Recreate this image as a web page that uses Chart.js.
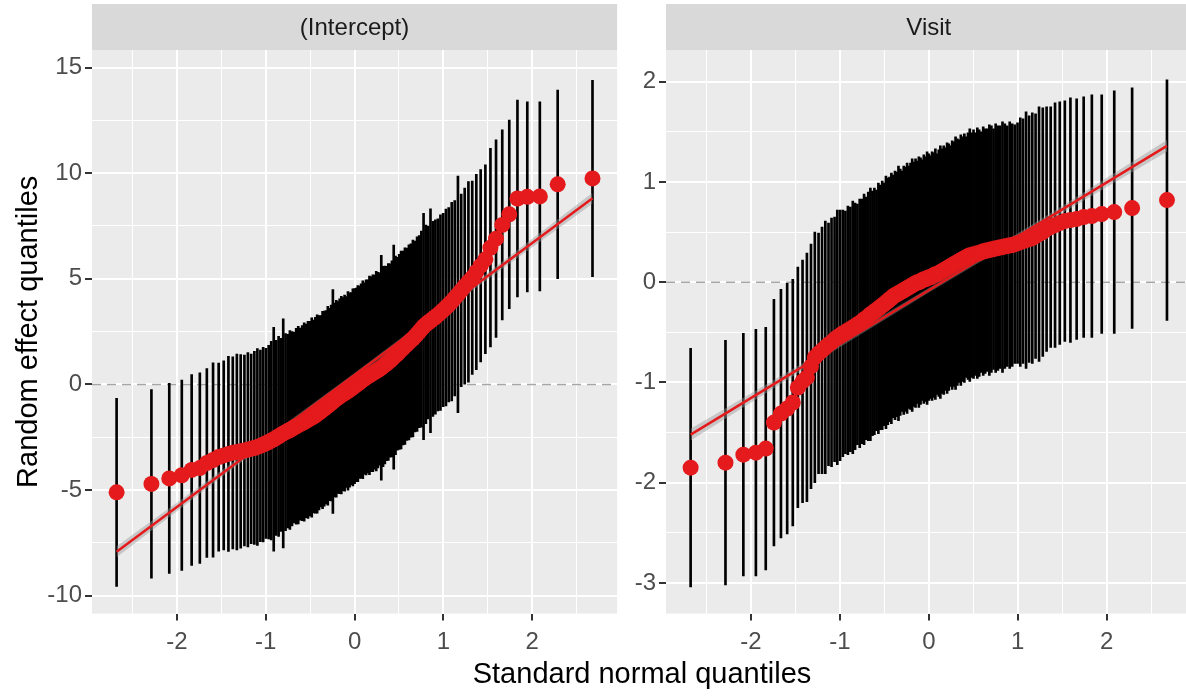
<!DOCTYPE html>
<html>
<head>
<meta charset="utf-8">
<script src="https://cdn.jsdelivr.net/npm/chart.js@4.4.1/dist/chart.umd.min.js"></script>
<style>
  html, body { margin: 0; padding: 0; background: #fff; width: 1186px; height: 696px; overflow: hidden; position: relative; }
  canvas { position: absolute; top: 0; }
  #left { left: 0; }
  #right { left: 610px; }
  #xtitle { position: absolute; left: 342px; width: 600px; top: 659px; text-align: center;
    font: 29px 'Liberation Sans', Arial, sans-serif; line-height: 29px; color: #000; }
</style>
</head>
<body>
<canvas id="left" width="640" height="696"></canvas>
<canvas id="right" width="610" height="696"></canvas>
<div id="xtitle">Standard normal quantiles</div>
<script>
// theoretical quantiles (shared by both facets)
const quantiles = [
  -2.679, -2.287, -2.086, -1.945, -1.834, -1.742, -1.663, -1.593, -1.530, -1.473,
  -1.420, -1.371, -1.325, -1.282, -1.240, -1.201, -1.164, -1.128, -1.094, -1.060,
  -1.029, -0.998, -0.967, -0.938, -0.910, -0.882, -0.855, -0.829, -0.803, -0.777,
  -0.752, -0.728, -0.704, -0.681, -0.657, -0.634, -0.612, -0.589, -0.567, -0.546,
  -0.524, -0.503, -0.482, -0.461, -0.441, -0.421, -0.400, -0.380, -0.360, -0.341,
  -0.321, -0.301, -0.282, -0.263, -0.244, -0.225, -0.206, -0.187, -0.168, -0.149,
  -0.130, -0.112, -0.093, -0.074, -0.056, -0.037, -0.019, 0, 0.019, 0.037,
  0.056, 0.074, 0.093, 0.112, 0.130, 0.149, 0.168, 0.187, 0.206, 0.225,
  0.244, 0.263, 0.282, 0.301, 0.321, 0.341, 0.360, 0.380, 0.400, 0.421,
  0.441, 0.461, 0.482, 0.503, 0.524, 0.546, 0.567, 0.589, 0.612, 0.634,
  0.657, 0.681, 0.704, 0.728, 0.752, 0.777, 0.803, 0.829, 0.855, 0.882,
  0.910, 0.938, 0.967, 0.998, 1.029, 1.060, 1.094, 1.128, 1.164, 1.201,
  1.240, 1.282, 1.325, 1.371, 1.420, 1.473, 1.530, 1.593, 1.663, 1.742,
  1.834, 1.945, 2.086, 2.287, 2.679
];

// (Intercept): sorted estimates and interval half widths
const interceptEst = [
  -5.11, -4.71, -4.45, -4.30, -4.05, -3.96, -3.72, -3.58, -3.44, -3.36,
  -3.29, -3.24, -3.20, -3.17, -3.13, -3.09, -3.05, -3.01, -2.96, -2.91,
  -2.85, -2.79, -2.73, -2.66, -2.60, -2.53, -2.46, -2.39, -2.32, -2.26,
  -2.21, -2.16, -2.10, -2.04, -1.98, -1.93, -1.88, -1.83, -1.78, -1.73,
  -1.68, -1.62, -1.57, -1.52, -1.46, -1.40, -1.34, -1.27, -1.21, -1.15,
  -1.08, -1.01, -0.95, -0.88, -0.81, -0.74, -0.68, -0.62, -0.56, -0.51,
  -0.46, -0.41, -0.36, -0.31, -0.26, -0.20, -0.14, -0.08, -0.02, 0.04,
  0.10, 0.16, 0.22, 0.28, 0.33, 0.38, 0.43, 0.48, 0.53, 0.58,
  0.63, 0.68, 0.73, 0.79, 0.85, 0.92, 0.99, 1.06, 1.13, 1.21,
  1.29, 1.37, 1.45, 1.54, 1.63, 1.72, 1.81, 1.90, 1.99, 2.08,
  2.17, 2.27, 2.38, 2.50, 2.62, 2.74, 2.84, 2.93, 3.01, 3.10,
  3.19, 3.29, 3.40, 3.52, 3.64, 3.77, 3.92, 4.08, 4.26, 4.45,
  4.65, 4.85, 5.05, 5.32, 5.62, 5.92, 6.47, 6.90, 7.55, 8.05,
  8.80, 8.88, 8.90, 9.47, 9.75
];
const interceptHalf = [
  4.45, 4.46, 4.50, 4.51, 4.52, 4.51, 4.47, 4.60, 4.45, 4.48,
  4.62, 4.55, 4.64, 4.58, 4.52, 4.60, 4.49, 4.57, 4.66, 4.54,
  4.61, 4.50, 4.58, 4.70, 5.30, 4.62, 4.74, 4.57, 5.42, 4.66,
  4.58, 4.71, 4.60, 4.52, 4.64, 4.68, 4.55, 4.62, 4.70, 4.58,
  4.66, 4.61, 4.72, 4.56, 4.64, 4.69, 4.60, 4.53, 4.67, 4.62,
  4.58, 4.71, 4.55, 4.63, 5.30, 4.59, 4.66, 4.54, 4.61, 4.68,
  4.57, 4.64, 4.52, 4.70, 4.60, 4.55, 4.66, 4.62, 4.58, 4.64,
  4.55, 4.60, 4.68, 4.53, 4.62, 4.57, 4.70, 4.61, 4.66, 4.59,
  4.72, 4.63, 4.55, 5.32, 4.74, 4.68, 4.60, 4.66, 4.58, 4.64,
  5.30, 4.70, 4.56, 4.62, 4.68, 4.59, 4.65, 4.55, 4.62, 4.58,
  4.66, 4.52, 4.60, 4.55, 4.64, 5.36, 4.70, 4.57, 5.30, 4.62,
  4.60, 4.55, 4.63, 4.58, 4.66, 4.60, 4.70, 4.62, 5.60, 4.56,
  4.64, 4.75, 4.58, 4.62, 4.55, 4.47, 4.70, 4.68, 4.50, 4.46,
  4.66, 4.50, 4.48, 4.46, 4.65
];

// Visit: sorted estimates and interval half widths
const visitEst = [
  -1.85, -1.80, -1.72, -1.70, -1.66, -1.40, -1.31, -1.26, -1.20, -1.05,
  -0.99, -0.95, -0.84, -0.75, -0.71, -0.68, -0.65, -0.62, -0.60, -0.57,
  -0.55, -0.53, -0.51, -0.50, -0.48, -0.47, -0.45, -0.44, -0.42, -0.41,
  -0.39, -0.37, -0.36, -0.34, -0.32, -0.31, -0.29, -0.28, -0.26, -0.25,
  -0.23, -0.22, -0.20, -0.19, -0.17, -0.16, -0.14, -0.13, -0.12, -0.11,
  -0.10, -0.09, -0.08, -0.07, -0.06, -0.05, -0.04, -0.03, -0.02, -0.01,
  0.00, 0.00, 0.01, 0.02, 0.03, 0.03, 0.04, 0.05, 0.05, 0.06,
  0.07, 0.08, 0.08, 0.09, 0.10, 0.11, 0.12, 0.13, 0.14, 0.15,
  0.16, 0.17, 0.18, 0.19, 0.20, 0.21, 0.22, 0.23, 0.24, 0.25,
  0.26, 0.27, 0.27, 0.28, 0.28, 0.29, 0.29, 0.30, 0.31, 0.31,
  0.32, 0.32, 0.33, 0.33, 0.34, 0.34, 0.35, 0.35, 0.36, 0.36,
  0.37, 0.37, 0.38, 0.39, 0.40, 0.41, 0.42, 0.43, 0.44, 0.46,
  0.48, 0.50, 0.53, 0.55, 0.57, 0.59, 0.61, 0.62, 0.63, 0.65,
  0.66, 0.68, 0.70, 0.74, 0.82
];
const visitHalf = [
  1.19, 1.22, 1.21, 1.23, 1.21, 1.23, 1.24, 1.25, 1.23, 1.20,
  1.21, 1.24, 1.22, 1.25, 1.20, 1.23, 1.26, 1.21, 1.24, 1.22,
  1.27, 1.25, 1.23, 1.21, 1.24, 1.22, 1.26, 1.23, 1.20, 1.24,
  1.22, 1.25, 1.21, 1.24, 1.26, 1.22, 1.23, 1.20, 1.25, 1.22,
  1.24, 1.21, 1.26, 1.23, 1.22, 1.25, 1.21, 1.24, 1.22, 1.27,
  1.23, 1.20, 1.24, 1.22, 1.25, 1.21, 1.23, 1.26, 1.22, 1.24,
  1.21, 1.25, 1.23, 1.20, 1.24, 1.22, 1.26, 1.23, 1.21, 1.24,
  1.22, 1.25, 1.20, 1.23, 1.26, 1.22, 1.24, 1.21, 1.25, 1.23,
  1.20, 1.24, 1.22, 1.26, 1.23, 1.21, 1.25, 1.22, 1.24, 1.20,
  1.23, 1.26, 1.22, 1.24, 1.21, 1.25, 1.23, 1.20, 1.24, 1.22,
  1.21, 1.25, 1.23, 1.20, 1.24, 1.22, 1.21, 1.25, 1.22, 1.20,
  1.23, 1.21, 1.19, 1.20, 1.24, 1.22, 1.28, 1.23, 1.25, 1.22,
  1.27, 1.24, 1.22, 1.20, 1.22, 1.21, 1.20, 1.22, 1.20, 1.20,
  1.21, 1.19, 1.21, 1.20, 1.20
];

// fitted reference lines with their standard error band
const fitQ = [-2.679, -1.34, 0, 1.34, 2.679];
const interceptFit = [-7.92, -3.74, 0.44, 4.63, 8.81];
const interceptFitSe = [0.26, 0.15, 0.10, 0.15, 0.26];
const visitFit = [-1.52, -0.80, -0.08, 0.64, 1.36];
const visitFitSe = [0.058, 0.034, 0.022, 0.034, 0.058];

// axes
const xLim = [-2.956, 2.956];
const xMajor = [-2, -1, 0, 1, 2];
const xMinor = [-2.5, -1.5, -0.5, 0.5, 1.5, 2.5];
const interceptLim = [-10.85, 15.83];
const interceptMajor = [-10, -5, 0, 5, 10, 15];
const interceptMinor = [-7.5, -2.5, 2.5, 7.5, 12.5];
const visitLim = [-3.306, 2.317];
const visitMajor = [-3, -2, -1, 0, 1, 2];
const visitMinor = [-2.5, -1.5, -0.5, 0.5, 1.5];

const red = '#E41A1C';
Chart.defaults.font.family = "'Liberation Sans', Arial, sans-serif";

const panelPlugin = {
  id: 'panel',
  beforeDraw(chart, args, opts) {
    const { ctx, chartArea: a } = chart;
    ctx.save();
    ctx.fillStyle = '#EBEBEB';
    ctx.fillRect(a.left, a.top, a.right - a.left, a.bottom - a.top);
    ctx.fillStyle = '#D9D9D9';
    ctx.fillRect(a.left, 4, a.right - a.left, a.top - 4);
    ctx.fillStyle = '#1A1A1A';
    ctx.font = "24px 'Liberation Sans', Arial, sans-serif";
    ctx.textAlign = 'center';
    ctx.textBaseline = 'middle';
    ctx.fillText(opts.label, (a.left + a.right) / 2, (4 + a.top) / 2 + 1);
    ctx.restore();
  }
};

function axisOpts(lim, major, minor, extra) {
  const isMajor = c => c.tick && major.includes(c.tick.value);
  return Object.assign({
    type: 'linear',
    min: lim[0],
    max: lim[1],
    bounds: 'data',
    offset: false,
    afterBuildTicks: ax => {
      ax.ticks = major.concat(minor).sort((a, b) => a - b).map(v => ({ value: v }));
    },
    grid: {
      color: '#FFFFFF',
      lineWidth: c => (isMajor(c) ? 2 : 1),
      offset: false,
      drawTicks: true,
      tickLength: 7,
      tickWidth: 2,
      tickColor: c => (isMajor(c) ? '#333333' : 'rgba(0,0,0,0)')
    },
    border: { display: false },
    ticks: {
      autoSkip: false,
      maxRotation: 0,
      color: '#4D4D4D',
      font: { size: 24 },
      callback: v => (major.includes(v) ? String(v) : '')
    }
  }, extra);
}

function qqPanel(id, label, est, half, fit, fitSe, yLim, yMajor, yMinor, yAxisWidth, padRight, showTitle) {
  new Chart(document.getElementById(id), {
    type: 'bar',
    data: {
      datasets: [
        {
          type: 'scatter',
          data: quantiles.map((q, i) => ({ x: q, y: est[i] })),
          pointRadius: 8,
          pointHoverRadius: 8,
          backgroundColor: red,
          borderWidth: 0,
          order: 0
        },
        {
          type: 'line',
          data: fitQ.map((q, i) => ({ x: q, y: fit[i] })),
          borderColor: red,
          borderWidth: 2.5,
          pointRadius: 0,
          fill: false,
          order: 1
        },
        {
          type: 'line',
          data: fitQ.map((q, i) => ({ x: q, y: fit[i] + fitSe[i] })),
          borderColor: 'rgba(0,0,0,0)',
          backgroundColor: 'rgba(153,153,153,0.45)',
          pointRadius: 0,
          fill: '+1',
          order: 2
        },
        {
          type: 'line',
          data: fitQ.map((q, i) => ({ x: q, y: fit[i] - fitSe[i] })),
          borderColor: 'rgba(0,0,0,0)',
          pointRadius: 0,
          fill: false,
          order: 2
        },
        {
          type: 'bar',
          data: quantiles.map((q, i) => ({ x: q, y: [est[i] - half[i], est[i] + half[i]] })),
          backgroundColor: '#000000',
          barThickness: 2,
          borderWidth: 0,
          order: 3
        },
        {
          type: 'line',
          data: [{ x: xLim[0], y: 0 }, { x: xLim[1], y: 0 }],
          borderColor: '#A6A6A6',
          borderWidth: 1.5,
          borderDash: [9, 6],
          pointRadius: 0,
          fill: false,
          order: 4
        }
      ]
    },
    options: {
      responsive: false,
      animation: false,
      devicePixelRatio: 1,
      layout: { padding: { left: 0, top: 50, right: padRight, bottom: 0 } },
      plugins: {
        legend: { display: false },
        tooltip: { enabled: false },
        panel: { label: label }
      },
      scales: {
        x: axisOpts(xLim, xMajor, xMinor, {
          position: 'bottom',
          afterFit: ax => { ax.height = 82.4; },
          ticks: {
            autoSkip: false, maxRotation: 0, padding: 7, color: '#4D4D4D', font: { size: 24 },
            callback: v => (xMajor.includes(v) ? String(v) : '')
          }
        }),
        y: axisOpts(yLim, yMajor, yMinor, {
          position: 'left',
          beginAtZero: false,
          afterFit: ax => { ax.width = yAxisWidth; },
          title: {
            display: showTitle,
            text: 'Random effect quantiles',
            color: '#000000',
            font: { size: 29 },
            padding: { top: 12, bottom: 0 }
          }
        })
      }
    },
    plugins: [panelPlugin]
  });
}

qqPanel('left', '(Intercept)', interceptEst, interceptHalf, interceptFit, interceptFitSe,
  interceptLim, interceptMajor, interceptMinor, 92, 22.9, true);
qqPanel('right', 'Visit', visitEst, visitHalf, visitFit, visitFitSe,
  visitLim, visitMajor, visitMinor, 56, 28.4, false);
</script>
</body>
</html>
